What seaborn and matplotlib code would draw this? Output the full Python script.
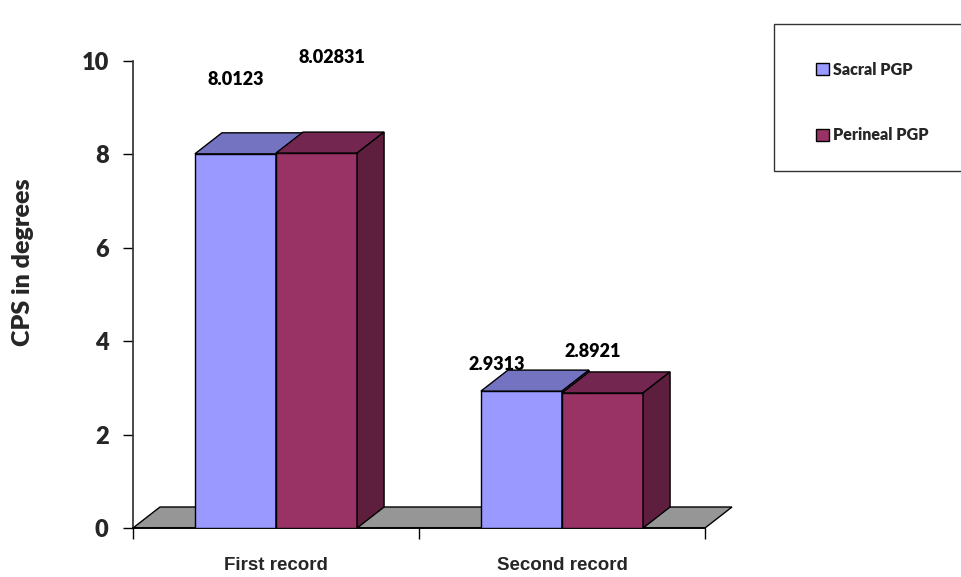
import numpy as np
import pandas as pd
import matplotlib
matplotlib.use("Agg")
import matplotlib.pyplot as plt
import seaborn as sns
from matplotlib.patches import Polygon, Rectangle, Patch

# ---- data -------------------------------------------------------------
records = ["First record", "Second record"]
groups = ["Sacral PGP", "Perineal PGP"]
sacral = [8.0123, 2.9313]
perineal = [8.02831, 2.8921]
sacral_labels = ["8.0123", "2.9313"]
perineal_labels = ["8.02831", "2.8921"]
y_ticks = [0, 2, 4, 6, 8, 10]

df = pd.DataFrame({
    "record": records * 2,
    "group": [groups[0]] * len(records) + [groups[1]] * len(records),
    "cps": sacral + perineal,
})
labels_by_group = {groups[0]: sacral_labels, groups[1]: perineal_labels}

# ---- styling ----------------------------------------------------------
front = {groups[0]: "#9999FF", groups[1]: "#993366"}
top = {groups[0]: "#7373C2", groups[1]: "#73264F"}
side = {groups[0]: "#5C5CA6", groups[1]: "#5E1F3F"}
floor_color = "#969696"
depth_px = (27, 21)          # oblique depth of the pseudo-3D boxes, in pixels
# label offsets (pixels) from the front-top centre of each bar
label_offsets = {
    groups[0]: [(0, 74), (-25, 27)],
    groups[1]: [(15, 96), (-10, 41)],
}

sns.set_theme(style="ticks")
plt.rcParams["font.family"] = ["Lato", "DejaVu Sans"]

W, H = 961, 577
fig = plt.figure(figsize=(W / 100, H / 100), dpi=100)
ax = fig.add_axes([133 / W, 1 - 528 / H, (705 - 133) / W, (528 - 61) / H])

sns.barplot(data=df, x="record", y="cps", hue="group", order=records,
            hue_order=groups, palette=front, saturation=1, width=0.567,
            gap=0, edgecolor="black", linewidth=1, legend=False, ax=ax)

ax.set_xlim(-0.5, len(records) - 0.5)
ax.set_ylim(0, 10)

# depth offset converted into data units
p0 = ax.transData.transform((0, 0))
ddx, ddy = ax.transData.inverted().transform(p0 + np.array(depth_px))

# floor
x0, x1 = -0.5, len(records) - 0.5
ax.add_patch(Polygon([(x0, 0), (x1, 0), (x1 + ddx, ddy), (x0 + ddx, ddy)],
                     closed=True, facecolor=floor_color, edgecolor="black",
                     linewidth=1, zorder=1, clip_on=False))

# pseudo-3D faces and value labels
for z, (cont, g) in enumerate(zip(ax.containers, groups)):
    for i, bar in enumerate(cont.patches):
        bar.set_zorder(3 + z)
        bx = bar.get_x()
        bw = bar.get_width()
        h = bar.get_height()
        xr = bx + bw
        ax.add_patch(Polygon([(bx, h), (xr, h), (xr + ddx, h + ddy), (bx + ddx, h + ddy)],
                             closed=True, facecolor=top[g], edgecolor="black",
                             linewidth=1, zorder=3 + z, clip_on=False))
        ax.add_patch(Polygon([(xr, 0), (xr, h), (xr + ddx, h + ddy), (xr + ddx, ddy)],
                             closed=True, facecolor=side[g], edgecolor="black",
                             linewidth=1, zorder=3 + z, clip_on=False))
        ox, oy = label_offsets[g][i]
        ax.annotate(labels_by_group[g][i], (bx + bw / 2, h),
                    xytext=(ox * 0.72, oy * 0.72), textcoords="offset points",
                    ha="center", va="center", fontsize=13, fontweight="heavy",
                    color="black", zorder=10, annotation_clip=False)

# axes
sns.despine(ax=ax)
ax.spines["left"].set_color("#333333")
ax.spines["bottom"].set_color("black")
ax.spines["left"].set_zorder(2)
ax.set_yticks(y_ticks)
ax.set_yticklabels([str(t) for t in y_ticks], fontsize=17, fontweight="heavy")
ax.tick_params(axis="y", direction="out", length=7, width=1, pad=10.5,
               color="black", left=True)

ax.set_xticks([x0 + k for k in range(len(records) + 1)])
ax.set_xticklabels([])
ax.tick_params(axis="x", which="major", direction="out", length=8, width=1,
               color="black", bottom=True)
ax.set_xticks(range(len(records)), minor=True)
ax.set_xticklabels(records, minor=True, fontsize=13.5, fontweight="bold",
                   family=["Liberation Sans Narrow", "Liberation Sans"])
ax.tick_params(axis="x", which="minor", length=0, pad=21)
ax.set_xlabel("")
ax.set_ylabel("")

fig.text(23 / W, 1 - 262 / H, "CPS in degrees", rotation=90, ha="center",
         va="center", fontsize=18, fontweight="heavy")

# legend box
fig.patches.append(Rectangle((774 / W, 1 - 171 / H), (W + 5 - 774) / W, (171 - 24) / H,
                             transform=fig.transFigure, facecolor="white",
                             edgecolor="#333333", linewidth=1, zorder=0))
handles = [Patch(facecolor=front[g], edgecolor="black", linewidth=1) for g in groups]
fig.legend(handles, groups, loc="center left",
           bbox_to_anchor=(816 / W, 1 - 102.5 / H), frameon=False,
           prop={"weight": "heavy", "size": 11.5}, handlelength=0.8,
           handleheight=0.8, handletextpad=0.25, labelspacing=3.1,
           borderpad=0, borderaxespad=0)

fig.savefig("out.png", dpi=100)
